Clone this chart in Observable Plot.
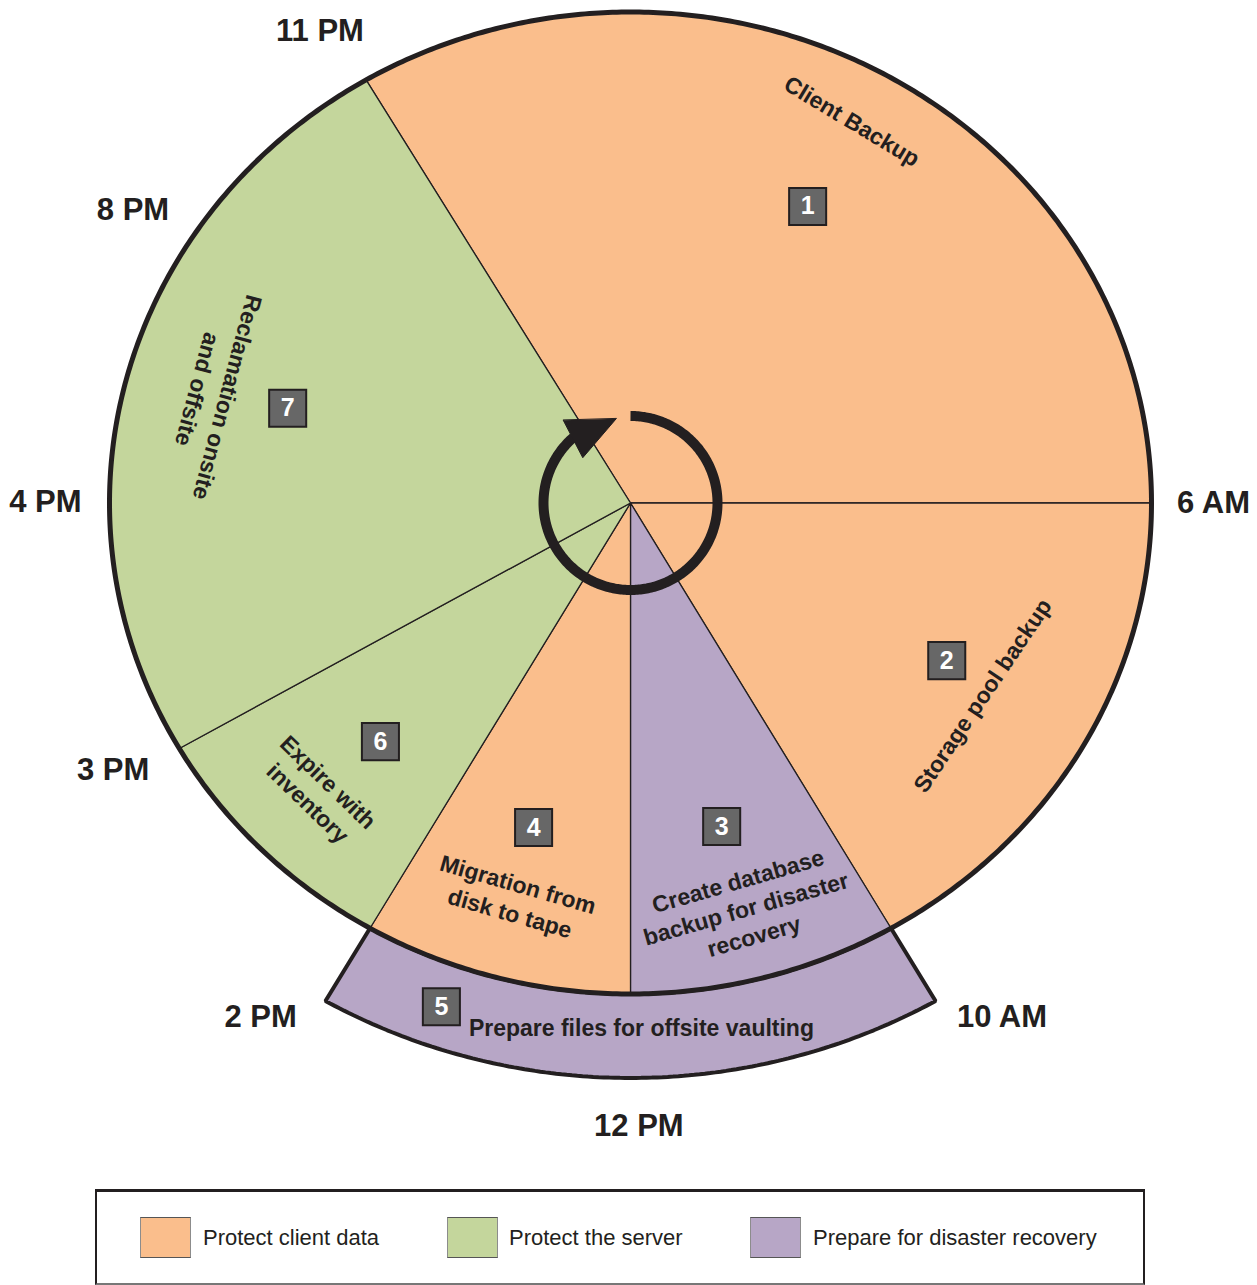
<!DOCTYPE html>
<html>
<head>
<meta charset="utf-8">
<script src="https://cdn.jsdelivr.net/npm/d3@7"></script>
<script src="https://cdn.jsdelivr.net/npm/@observablehq/plot@0.6"></script>
<style>
  body { margin: 0; background: #fff; font-family: "Liberation Sans", Arial, Helvetica, sans-serif; }
  #wrap { position: relative; width: 1257px; height: 1285px; overflow: hidden; }
  #chart { position: absolute; left: 0; top: 0; }
  #legend { position: absolute; left: 95px; top: 1189px; width: 1050px; height: 96px; box-sizing: border-box;
            border: 2.5px solid #231F20; border-top-width: 3.5px; border-bottom: 2px solid #777; background: #fff; }
  .sw { position: absolute; top: 1217px; width: 51px; height: 41px; box-sizing: border-box;
        border: 1px solid #8c8c8c; border-top-color: #555; border-bottom-color: #555; }
  .lt { position: absolute; top: 1225px; font-size: 22px; color: #231F20; line-height: 26px; white-space: nowrap; }
</style>
</head>
<body>
<div id="wrap">
  <div id="chart"></div>
  <div id="legend"></div>
</div>
<script>
// ---------------- DATA ----------------
// clock positions on the diagram (degrees clockwise from the 6 AM direction)
const hours      = ["6 AM", "10 AM", "12 PM", "2 PM", "3 PM", "4 PM", "8 PM", "11 PM"];
const hourAngles = [0, 60, 90, 120, 150, 180, 210, 239.5];

// daily tasks
const taskNumbers = [1, 2, 3, 4, 5, 6, 7];
const taskLabels  = [
  "Client Backup",
  "Storage pool backup",
  "Create database\nbackup for disaster\nrecovery",
  "Migration from\ndisk to tape",
  "Prepare files for offsite vaulting",
  "Expire with\ninventory",
  "Reclamation onsite\nand offsite"
];
const taskStart = ["11 PM", "6 AM", "10 AM", "12 PM", "10 AM", "2 PM", "3 PM"];
const taskEnd   = ["6 AM", "10 AM", "12 PM", "2 PM", "2 PM", "3 PM", "11 PM"];
const taskGroup = ["Protect client data", "Protect client data", "Prepare for disaster recovery",
                   "Protect client data", "Prepare for disaster recovery", "Protect the server", "Protect the server"];
const taskOuterRing = [false, false, false, false, true, false, false];

// legend categories
const groups = ["Protect client data", "Protect the server", "Prepare for disaster recovery"];

// ---------------- STYLE / LAYOUT ----------------
const groupColors = ["#FABE8C", "#C4D69C", "#B7A6C6"];
const ink = "#231F20";
const font = "Liberation Sans, Arial, Helvetica, sans-serif";
const cx = 630, cy = 502.5, rxPx = 521, ryPx = 491;   // ellipse of the dial
const ringOuter = 1.171;                               // outer radius of the outer band (units)

// label placements in dial units [x, y, rotate, lineHeight]
const taskLabelLayout = [
  [0.426, 0.779, 31, 1.2],
  [0.674, -0.391, -56, 1.2],
  [0.221, -0.824, -16, 1.25],
  [-0.223, -0.803, 16, 1.3],
  [0.021, -1.068, 0, 1.2],
  [-0.598, -0.588, 44, 1.27],
  [-0.799, 0.222, 105, 1.35]
];
const boxLayout = [
  [0.340, 0.604], [0.607, -0.321], [0.175, -0.659], [-0.186, -0.661],
  [-0.363, -1.026], [-0.480, -0.486], [-0.658, 0.193]
];
const hourLabelLayout = [
  [1.119, 0.0], [0.713, -1.048], [0.016, -1.268], [-0.710, -1.048],
  [-0.993, -0.543], [-1.123, 0.001], [-0.955, 0.596], [-0.596, 0.962]
];
// rotation arrow (pixel radii, degrees)
const arrowR = 87, arrowFrom = 270, arrowTo = 589;
const arrowHead = [[106.6, 230.9], [65.8, 223.5], [85.5, 260.4]];

// ---------------- GEOMETRY ----------------
const angleOf = h => hourAngles[hours.indexOf(h)];
function pt(theta, r) {
  const t = theta * Math.PI / 180;
  return {x: r * Math.cos(t), y: -r * Math.sin(t)};
}
function ptPx(theta, rp) {
  const t = theta * Math.PI / 180;
  return {x: rp / rxPx * Math.cos(t), y: -rp / ryPx * Math.sin(t)};
}
function arc(a0, a1, r, step = 0.5) {
  const n = Math.max(2, Math.ceil(Math.abs(a1 - a0) / step));
  return d3.range(n + 1).map(i => pt(a0 + (a1 - a0) * i / n, r));
}
const colorOf = g => groupColors[groups.indexOf(g)];

const sliceMarks = [];
const ringMarks = [];
taskNumbers.forEach((n, i) => {
  let a0 = angleOf(taskStart[i]), a1 = angleOf(taskEnd[i]);
  if (a1 <= a0) a1 += 360;
  if (taskOuterRing[i]) {
    const poly = [...arc(a0, a1, 1), ...arc(a1, a0, ringOuter)];
    ringMarks.push(Plot.line(poly, {x: "x", y: "y", curve: "linear-closed", fill: colorOf(taskGroup[i]),
      stroke: ink, strokeWidth: 4, strokeLinejoin: "miter"}));
  } else {
    const poly = [{x: 0, y: 0}, ...arc(a0, a1, 1)];
    sliceMarks.push(Plot.line(poly, {x: "x", y: "y", curve: "linear-closed", fill: colorOf(taskGroup[i]),
      stroke: ink, strokeWidth: 1.3, strokeLinejoin: "miter"}));
  }
});

const outline = arc(0, 360, 1);
const arrowArc = d3.range(0, 321).map(i => ptPx(arrowFrom + (arrowTo - arrowFrom) * i / 320, arrowR));
const headPts = arrowHead.map(([r, a]) => ptPx(a, r));

const taskText = taskLabels.map((t, i) => ({
  text: t, x: taskLabelLayout[i][0], y: taskLabelLayout[i][1], rot: taskLabelLayout[i][2], lh: taskLabelLayout[i][3]
}));
const boxes = taskNumbers.map((n, i) => ({n: String(n), x: boxLayout[i][0], y: boxLayout[i][1]}));
const hourText = hours.map((h, i) => ({text: h, x: hourLabelLayout[i][0], y: hourLabelLayout[i][1]}));

const labelMarks = taskText.map(d => Plot.text([d], {
  x: "x", y: "y", text: "text", rotate: d.rot, lineHeight: d.lh,
  fontSize: 23, fontWeight: "bold", fill: ink, fontFamily: font
}));

const chart = Plot.plot({
  width: 1257,
  height: 1180,
  margin: 0,
  x: {domain: [-1, 1], range: [cx - rxPx, cx + rxPx], axis: null},
  y: {domain: [-1, 1], range: [cy + ryPx, cy - ryPx], axis: null},
  style: {fontFamily: font, background: "transparent", overflow: "visible"},
  marks: [
    ...ringMarks,
    ...sliceMarks,
    Plot.line(outline, {x: "x", y: "y", curve: "linear-closed", stroke: ink, strokeWidth: 5}),
    Plot.line(arrowArc, {x: "x", y: "y", stroke: ink, strokeWidth: 10, strokeLinecap: "butt"}),
    Plot.line(headPts, {x: "x", y: "y", curve: "linear-closed", fill: ink, stroke: ink, strokeWidth: 1}),
    ...labelMarks,
    Plot.dot(boxes, {x: "x", y: "y", symbol: "square", r: 20.9, fill: "#676767", stroke: ink, strokeWidth: 2}),
    Plot.text(boxes, {x: "x", y: "y", text: "n", fill: "white", fontSize: 25, fontWeight: "bold", fontFamily: font}),
    Plot.text(hourText, {x: "x", y: "y", text: "text", fontSize: 31, fontWeight: "bold", fill: ink, fontFamily: font})
  ]
});
document.getElementById("chart").appendChild(chart);

// ---------------- LEGEND ----------------
const wrap = document.getElementById("wrap");
const swLeft = [140, 447, 750];
const txLeft = [203, 509, 813];
groups.forEach((g, i) => {
  const sw = document.createElement("div");
  sw.className = "sw";
  sw.style.left = swLeft[i] + "px";
  sw.style.background = groupColors[i];
  wrap.appendChild(sw);
  const t = document.createElement("div");
  t.className = "lt";
  t.style.left = txLeft[i] + "px";
  t.textContent = g;
  wrap.appendChild(t);
});
</script>
</body>
</html>
